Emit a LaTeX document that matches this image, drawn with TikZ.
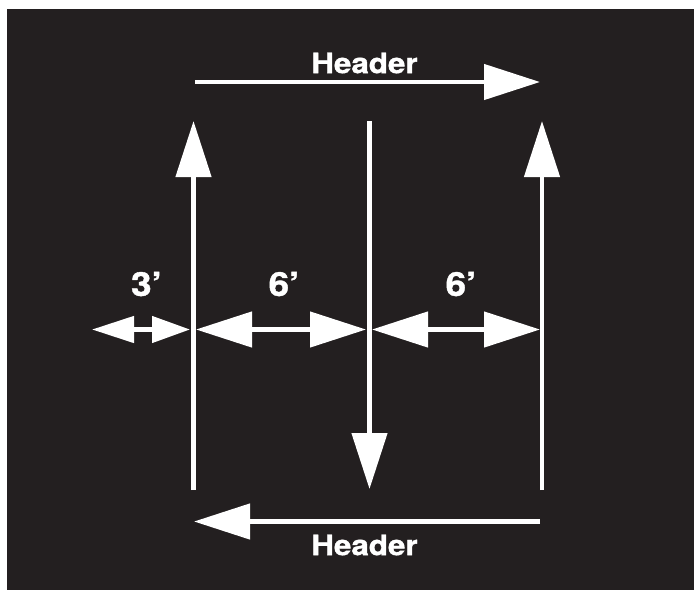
\documentclass[tikz,border=0pt]{standalone}
\usepackage{fontspec}
\newfontfamily\hfont{TeX Gyre Heros}[FakeStretch=1.12, BoldFeatures={FakeBold=1.2}]
\usetikzlibrary{arrows.meta}
\definecolor{bg}{HTML}{231F20}
\tikzset{
  wline/.style={draw=white, line width=4.5pt},
  bigtip/.style={-{Triangle[length=56pt,width=35pt]}},
  bigboth/.style={{Triangle[length=56pt,width=35pt]}-{Triangle[length=56pt,width=35pt]}},
  smallboth/.style={{Triangle[length=42pt,width=26pt]}-{Triangle[length=38pt,width=26pt]}},
  lbl/.style={text=white, inner sep=0pt, font=\hfont\bfseries\fontsize{33}{33}\selectfont},
  hdr/.style={text=white, inner sep=0pt, font=\hfont\bfseries\fontsize{28}{28}\selectfont}
}
\begin{document}
\begin{tikzpicture}[x=1pt,y=-1pt]
\useasboundingbox (0,0) rectangle (694,590);
\fill[white] (0,0) rectangle (694,590);
\fill[bg] (7,9) rectangle (694,590);
% coordinates
\coordinate (th1) at (195,82);
\coordinate (th2) at (540,82);
\coordinate (l1) at (193.5,490);
\coordinate (l2) at (193.5,121);
\coordinate (m1) at (369.5,121);
\coordinate (m2) at (369.5,489);
\coordinate (r1) at (542,490);
\coordinate (r2) at (542,121);
\coordinate (bh1) at (540,521.5);
\coordinate (bh2) at (194,521.5);
\coordinate (a1) at (92,329.5);
\coordinate (a2) at (190,329.5);
\coordinate (b1) at (196,329.5);
\coordinate (b2) at (366,329.5);
\coordinate (c1) at (372,329.5);
\coordinate (c2) at (540,329.5);
% arrows
\draw[wline,bigtip] (th1) -- (th2);
\draw[wline,bigtip] (l1) -- (l2);
\draw[wline,bigtip] (m1) -- (m2);
\draw[wline,bigtip] (r1) -- (r2);
\draw[wline,bigtip] (bh1) -- (bh2);
\draw[wline,smallboth] (a1) -- (a2);
\draw[wline,bigboth] (b1) -- (b2);
\draw[wline,bigboth] (c1) -- (c2);
% labels
\node[hdr] (htop) at (364.5,63) {Header};
\node[hdr] (hbot) at (364.5,545) {Header};
\node[lbl] (d3) at (146.5,284) {3’};
\node[lbl] (d6a) at (284,284) {6’};
\node[lbl] (d6b) at (461,284) {6’};
\end{tikzpicture}
\end{document}
